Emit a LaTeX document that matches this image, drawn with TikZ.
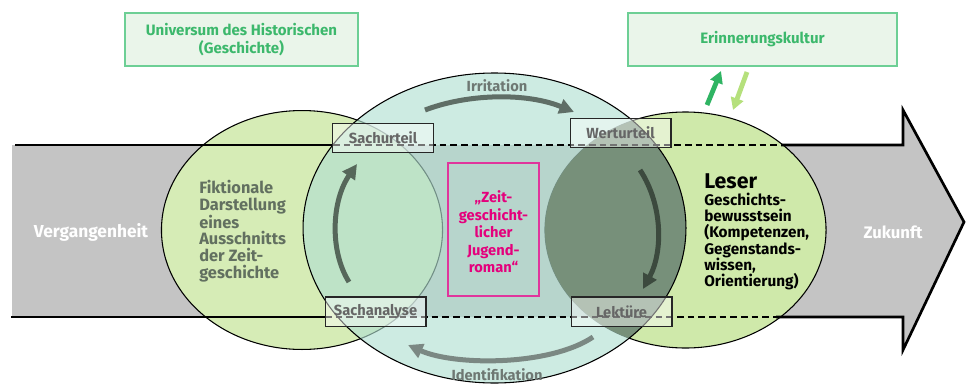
\documentclass[tikz,border=0pt]{standalone}
\usepackage{fontspec}
\setmainfont{Fira Sans}
\usetikzlibrary{arrows.meta}
\definecolor{arrowgray}{HTML}{C4C4C4}
\definecolor{leftgreen}{HTML}{D6ECB6}
\definecolor{rightgreen}{HTML}{CFE9AA}
\definecolor{teal}{HTML}{B1DFD1}
\definecolor{darkov}{HTML}{77907A}
\definecolor{olivebox}{HTML}{8F9478}
\definecolor{topline}{HTML}{6DCF95}
\definecolor{topfill}{HTML}{EAF5EA}
\definecolor{toptext}{HTML}{3CB86C}
\definecolor{fiktext}{HTML}{627060}
\definecolor{boxtext}{HTML}{666666}
\definecolor{magentac}{HTML}{E4007C}
\definecolor{magline}{HTML}{E0359C}
\definecolor{labgray}{HTML}{6E7873}
\definecolor{irrcol}{HTML}{5F6E66}
\definecolor{rcol}{HTML}{3C4A3E}
\definecolor{bcol}{HTML}{7B8883}
\definecolor{lcol}{HTML}{56675A}
\definecolor{gup}{HTML}{2FB463}
\definecolor{gdown}{HTML}{B5E07C}
\tikzset{
  topbox/.style={draw=topline, fill=topfill, line width=0.9pt, text=toptext,
    font=\bfseries\fontsize{11.3}{13}\selectfont, align=center, inner sep=0pt},
  cyclebox/.style={draw=black!85, line width=1pt, fill=white, fill opacity=0.45,
    text opacity=1, minimum width=75.5pt, minimum height=22pt, inner sep=0pt,
    font=\bfseries\fontsize{11}{12}\selectfont, text=boxtext},
  olivepic/.style={path picture={
      \begin{scope}
        \clip (685.5,230) ellipse [x radius=105.4pt, y radius=88.5pt];
        \fill[olivebox, fill opacity=0.85] (0,0) rectangle (966,385);
      \end{scope}}},
  cyc/.style={line width=3.75pt, -{Triangle[length=11pt,width=11pt]}},
  garrow/.style={line width=3.6pt, -{Triangle[length=9pt,width=9.5pt]}},
  lab/.style={font=\bfseries\fontsize{11}{13}\selectfont, text=labgray},
  solidline/.style={line width=2.2pt, black},
  dashline/.style={line width=1.6pt, black, dash pattern=on 5pt off 3pt}
}
\begin{document}
\begin{tikzpicture}[x=0.75pt,y=-0.75pt]
\useasboundingbox (0,0) rectangle (966,385);
\clip (0,0) rectangle (966,385);

% big gray arrow
\fill[arrowgray] (12,145) -- (903,145) -- (903,110) -- (964,222) -- (903,350) -- (903,317) -- (12,317) -- cycle;

% left and right ellipses
\filldraw[fill=leftgreen, draw=black, line width=0.8pt] (302,230) ellipse [x radius=105.4pt, y radius=89.6pt];
\filldraw[fill=rightgreen, draw=black, line width=0.8pt] (685.5,230) ellipse [x radius=105.4pt, y radius=88.5pt];

% middle ellipse
\fill[teal, fill opacity=0.64] (494.5,228) ellipse [x radius=143.6pt, y radius=116.25pt];
\begin{scope}
  \clip (494.5,228) ellipse [x radius=143.6pt, y radius=116.25pt];
  \fill[darkov] (685.5,230) ellipse [x radius=105.4pt, y radius=88.5pt];
\end{scope}
\draw[black, line width=0.8pt] (494.5,228) ellipse [x radius=143.6pt, y radius=116.25pt];

% band lines
\coordinate (tl) at (15,145);
\coordinate (tm) at (333,145);
\coordinate (tr) at (781,145);
\coordinate (bl) at (11,317);
\coordinate (bm) at (325,317);
\coordinate (br) at (776,317);
\draw[solidline] (tl) -- (tm);
\draw[solidline] (bl) -- (bm);
\draw[dashline] (tm) -- (tr);
\draw[dashline] (bm) -- (br);
\draw[solidline, line width=2pt, line join=miter] (tr) -- (903,145) -- (903,110) -- (964,222) -- (903,350) -- (903,317) -- (br);

% top boxes
\node[topbox, minimum width=174.75pt, minimum height=39.75pt] (univ) at (241.5,39.5) {Universum des Historischen\\(Geschichte)};
\node[topbox, minimum width=201.75pt, minimum height=39.75pt] (erin) at (762.5,39.5) {Erinnerungskultur};

% green exchange arrows
\coordinate (gu1) at (707,105);
\coordinate (gu2) at (721,71);
\coordinate (gd1) at (747,72);
\coordinate (gd2) at (733,110);
\draw[garrow, gup] (gu1) -- (gu2);
\draw[garrow, gdown] (gd1) -- (gd2);

% magenta box
\node[draw=magline, line width=0.9pt, minimum width=68.25pt, minimum height=99.75pt, inner sep=0pt] (roman) at (493.5,229.5) {};
\node[text=magentac, font=\bfseries\fontsize{11}{13.1}\selectfont, align=center] (romantext) at (493.5,232) {„Zeit-\\geschicht-\\licher\\Jugend-\\roman“};

% cycle boxes
\node[cyclebox] (sachurteil) at (383,138) {Sachurteil};
\node[cyclebox, olivepic] (werturteil) at (620.5,133) {Werturteil};
\node[cyclebox] (sachanalyse) at (375.5,311.5) {Sachanalyse};
\node[cyclebox, olivepic] (lektuere) at (621.5,311.5) {Lektüre};

% texts
\node[text=white, font=\bfseries\fontsize{13}{15}\selectfont] (verg) at (91,232) {Vergangenheit};
\node[text=white, font=\bfseries\fontsize{12.5}{15}\selectfont] (zuk) at (893,232) {Zukunft};
\node[anchor=west, text=fiktext, align=left, inner sep=0pt, font=\bfseries\fontsize{12.3}{12.5}\selectfont] (fikt) at (199,231) {Fiktionale\\Darstellung\\eines\\Ausschnitts\\der Zeit-\\geschichte};
\node[anchor=west, inner sep=0pt, font=\bfseries\fontsize{16}{18}\selectfont] (leser) at (704,181) {Leser};
\node[anchor=west, align=left, inner sep=0pt, font=\bfseries\fontsize{11.5}{12.2}\selectfont] (gbw) at (704,241.5) {Geschichts-\\bewusstsein\\(Kompetenzen,\\Gegenstands-\\wissen,\\Orientierung)};
\node[lab] (irr) at (497,86) {Irritation};
\node[lab] (ident) at (497,375) {Identifikation};

% cycle arrows
\coordinate (irrS) at (425,110);
\coordinate (irrE) at (574,112);
\draw[cyc, irrcol] (irrS) .. controls (470,93) and (528,93) .. (irrE);
\coordinate (rS) at (640,170);
\coordinate (rE) at (643,289);
\draw[cyc, rcol] (rS) .. controls (663,205) and (663,252) .. (rE);
\coordinate (bS) at (593,337);
\coordinate (bE) at (408,345);
\draw[cyc, bcol] (bS) .. controls (550,366) and (455,366) .. (bE);
\coordinate (lS) at (349,282);
\coordinate (lE) at (357,164);
\draw[cyc, lcol] (lS) .. controls (329,250) and (332,200) .. (lE);
\end{tikzpicture}
\end{document}
